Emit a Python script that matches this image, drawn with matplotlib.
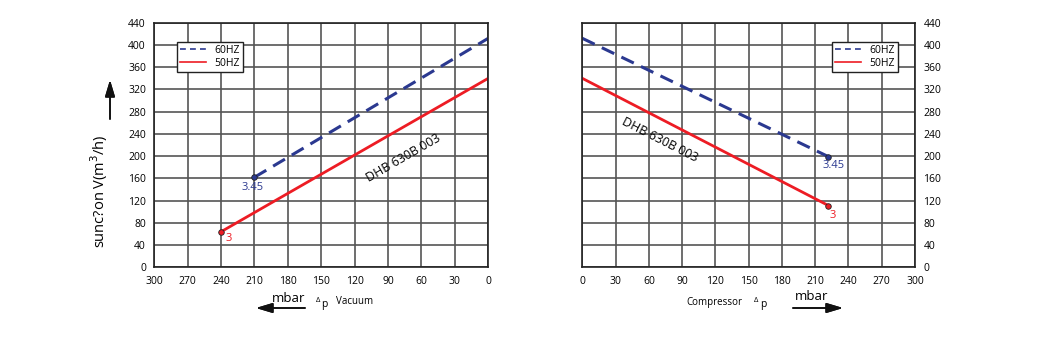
import matplotlib.pyplot as plt
from matplotlib.lines import Line2D

# data
x_ticks = [0, 30, 60, 90, 120, 150, 180, 210, 240, 270, 300]
y_ticks = [0, 40, 80, 120, 160, 200, 240, 280, 320, 360, 400, 440]

vac_60_x = [210, 0]
vac_60_y = [162, 412]
vac_50_x = [240, 0]
vac_50_y = [64, 340]

comp_60_x = [0, 222]
comp_60_y = [412, 199]
comp_50_x = [0, 222]
comp_50_y = [340, 111]

model = 'DHB 630B 003'
blue = '#2b3990'
red = '#ed1c24'

plt.rcParams['font.family'] = ['Open Sans', 'DejaVu Sans']

fig = plt.figure(figsize=(10.48, 3.37), dpi=100)
ax1 = fig.add_axes([0.1472, 0.2068, 0.3187, 0.7258])
ax2 = fig.add_axes([0.5556, 0.2068, 0.3175, 0.7258])

leg_handles = [Line2D([], [], color=blue, lw=1.2, ls=(0, (3.5, 2.5))),
               Line2D([], [], color=red, lw=1.2)]
leg_labels = ['60HZ', '50HZ']


def style(ax):
    ax.set_xlim(0, 300)
    ax.set_ylim(0, 440)
    ax.set_xticks(x_ticks)
    ax.set_yticks(y_ticks)
    ax.grid(True, color='#555555', lw=1.2)
    ax.tick_params(length=0, labelsize=7.5, pad=6)
    for s in ax.spines.values():
        s.set_color('#222222')
        s.set_linewidth(1.2)
    ax.set_axisbelow(True)


def add_legend(ax, loc, anchor):
    leg = ax.legend(leg_handles, leg_labels, loc=loc, bbox_to_anchor=anchor,
                    fontsize=7.5, fancybox=False, framealpha=1, edgecolor='#222222',
                    handlelength=2.5, borderpad=0.3, labelspacing=0.2,
                    handletextpad=0.8, borderaxespad=0)
    leg.get_frame().set_linewidth(1.0)


# vacuum side
style(ax1)
ax1.invert_xaxis()
ax1.plot(vac_60_x, vac_60_y, color=blue, lw=2.2, ls=(0, (4.5, 2.6)))
ax1.plot(vac_50_x, vac_50_y, color=red, lw=2)
ax1.plot(vac_60_x[0], vac_60_y[0], 'o', ms=4, color=blue, mec='#222222', mew=0.6)
ax1.plot(vac_50_x[0], vac_50_y[0], 'o', ms=4, color=red, mec='#222222', mew=0.6)
ax1.text(212, 144, '3.45', color=blue, fontsize=8, ha='center', va='center')
ax1.text(233, 51, '3', color=red, fontsize=8, ha='center', va='center')
ax1.text(76, 197, model, rotation=30, fontsize=9, ha='center', va='center',
         rotation_mode='anchor')
add_legend(ax1, 'upper left', (0.068, 0.923))
ax1.set_ylabel('sunc?on V(m$^3$/h)', fontsize=10.5)
ax1.yaxis.set_label_coords(-0.132, 0.31)

# compressor side
style(ax2)
ax2.yaxis.tick_right()
ax2.plot(comp_60_x, comp_60_y, color=blue, lw=2.2, ls=(0, (4.5, 2.6)))
ax2.plot(comp_50_x, comp_50_y, color=red, lw=2)
ax2.plot(comp_60_x[1], comp_60_y[1], 'o', ms=4, color=blue, mec='#222222', mew=0.6)
ax2.plot(comp_50_x[1], comp_50_y[1], 'o', ms=4, color=red, mec='#222222', mew=0.6)
ax2.text(227, 183, '3.45', color=blue, fontsize=8, ha='center', va='center')
ax2.text(226, 93, '3', color=red, fontsize=8, ha='center', va='center')
ax2.text(70, 229, model, rotation=-27, fontsize=9, ha='center', va='center',
         rotation_mode='anchor')
add_legend(ax2, 'upper right', (0.948, 0.923))

# arrows and axis captions (figure pixel coords)
W, H = 1048, 337


def fx(px):
    return px / W


def fy(py):
    return 1 - py / H


arrow_kw = dict(arrowstyle='-|>,head_width=0.3,head_length=1.0', color='#111111', lw=1.2,
                shrinkA=0, shrinkB=0)

# y arrow
fig.add_artist(plt.annotate('', xy=(fx(110), fy(80)), xytext=(fx(110), fy(119)),
                            xycoords='figure fraction', arrowprops=arrow_kw))

# left bottom
fig.text(fx(289), fy(298), 'mbar', fontsize=9.5, ha='center', va='center')
fig.add_artist(plt.annotate('', xy=(fx(256), fy(308)), xytext=(fx(305), fy(308)),
                            xycoords='figure fraction', arrowprops=arrow_kw))
fig.text(fx(318), fy(300), '\u0394', fontsize=5.5, ha='center', va='center')
fig.text(fx(324), fy(304), 'p', fontsize=7.5, ha='center', va='center')
fig.text(fx(336), fy(302), 'Vacuum', fontsize=7, ha='left', va='center')

# right bottom
fig.text(fx(686), fy(302), 'Compressor', fontsize=7, ha='left', va='center')
fig.text(fx(756), fy(300), '\u0394', fontsize=5.5, ha='center', va='center')
fig.text(fx(763), fy(304), 'p', fontsize=7.5, ha='center', va='center')
fig.text(fx(812), fy(297), 'mbar', fontsize=9.5, ha='center', va='center')
fig.add_artist(plt.annotate('', xy=(fx(843), fy(308)), xytext=(fx(793), fy(308)),
                            xycoords='figure fraction', arrowprops=arrow_kw))

fig.savefig('out.png', dpi=100)
plt.close(fig)
